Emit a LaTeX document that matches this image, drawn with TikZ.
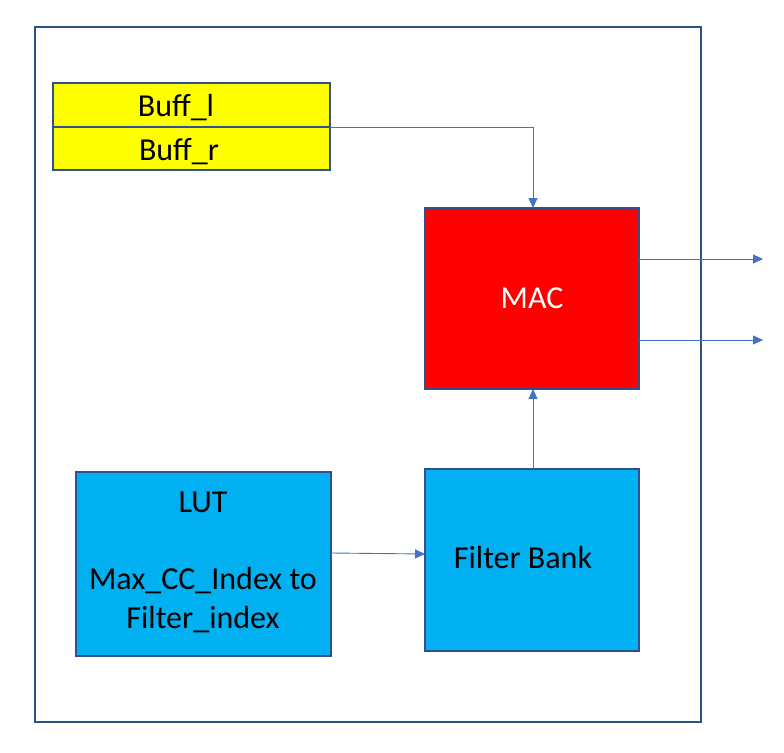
\documentclass[tikz,border=0pt]{standalone}
\usepackage{fontspec}
\setmainfont{Carlito}
\usetikzlibrary{arrows.meta}
\definecolor{bordc}{HTML}{2F528F}
\definecolor{arrc}{HTML}{4472C4}
\definecolor{ybox}{HTML}{FFFF00}
\definecolor{rbox}{HTML}{FF0000}
\definecolor{bbox}{HTML}{00B0F0}
\tikzset{
  blk/.style={draw=bordc, line width=1.3pt, inner sep=0pt, outer sep=0pt},
  lbl/.style={font=\fontsize{32}{39}\selectfont, inner sep=0pt, align=center},
  conn/.style={draw=arrc, line width=0.9pt, -{Triangle[length=10pt,width=9pt]}},
}
\begin{document}
\begin{tikzpicture}[x=1pt,y=-1pt]
\useasboundingbox (0,0) rectangle (784,752);
\node[blk, minimum width=666pt, minimum height=695pt, anchor=north west] (frame) at (35,27) {};
\node[blk, fill=ybox, minimum width=277pt, minimum height=44pt, anchor=north west] (bl) at (53,83) {};
\node[blk, fill=ybox, minimum width=277pt, minimum height=43pt, anchor=north west] (br) at (53,127) {};
\node[lbl] (tbl) at (176,108) {Buff\_l};
\node[lbl] (tbr) at (179,152) {Buff\_r};
\node[blk, fill=rbox, minimum width=214pt, minimum height=181pt, anchor=north west] (mac) at (425,208) {};
\node[lbl, text=white] (tmac) at (532,298) {MAC};
\node[blk, fill=bbox, minimum width=255pt, minimum height=184pt, anchor=north west] (lut) at (76,472) {};
\node[lbl] (tlut) at (203,502) {LUT};
\node[lbl] (tmax) at (203,600) {Max\_CC\_Index to\\Filter\_index};
\node[blk, fill=bbox, minimum width=214pt, minimum height=182pt, anchor=north west] (fb) at (425,469) {};
\node[lbl] (tfb) at (523,558) {Filter Bank};
\coordinate (o1) at (763,259);
\coordinate (o2) at (763,340);
\draw[conn] (bl.south east) -- (533,127) -- (mac.north -| 533,0);
\draw[conn] (fb.north -| 533,0) -- (mac.south -| 533,0);
\draw[conn] (lut.east |- 0,553) -- (fb.west |- 0,554);
\draw[conn] (mac.east |- 0,259) -- (o1);
\draw[conn] (mac.east |- 0,340) -- (o2);
\end{tikzpicture}
\end{document}
